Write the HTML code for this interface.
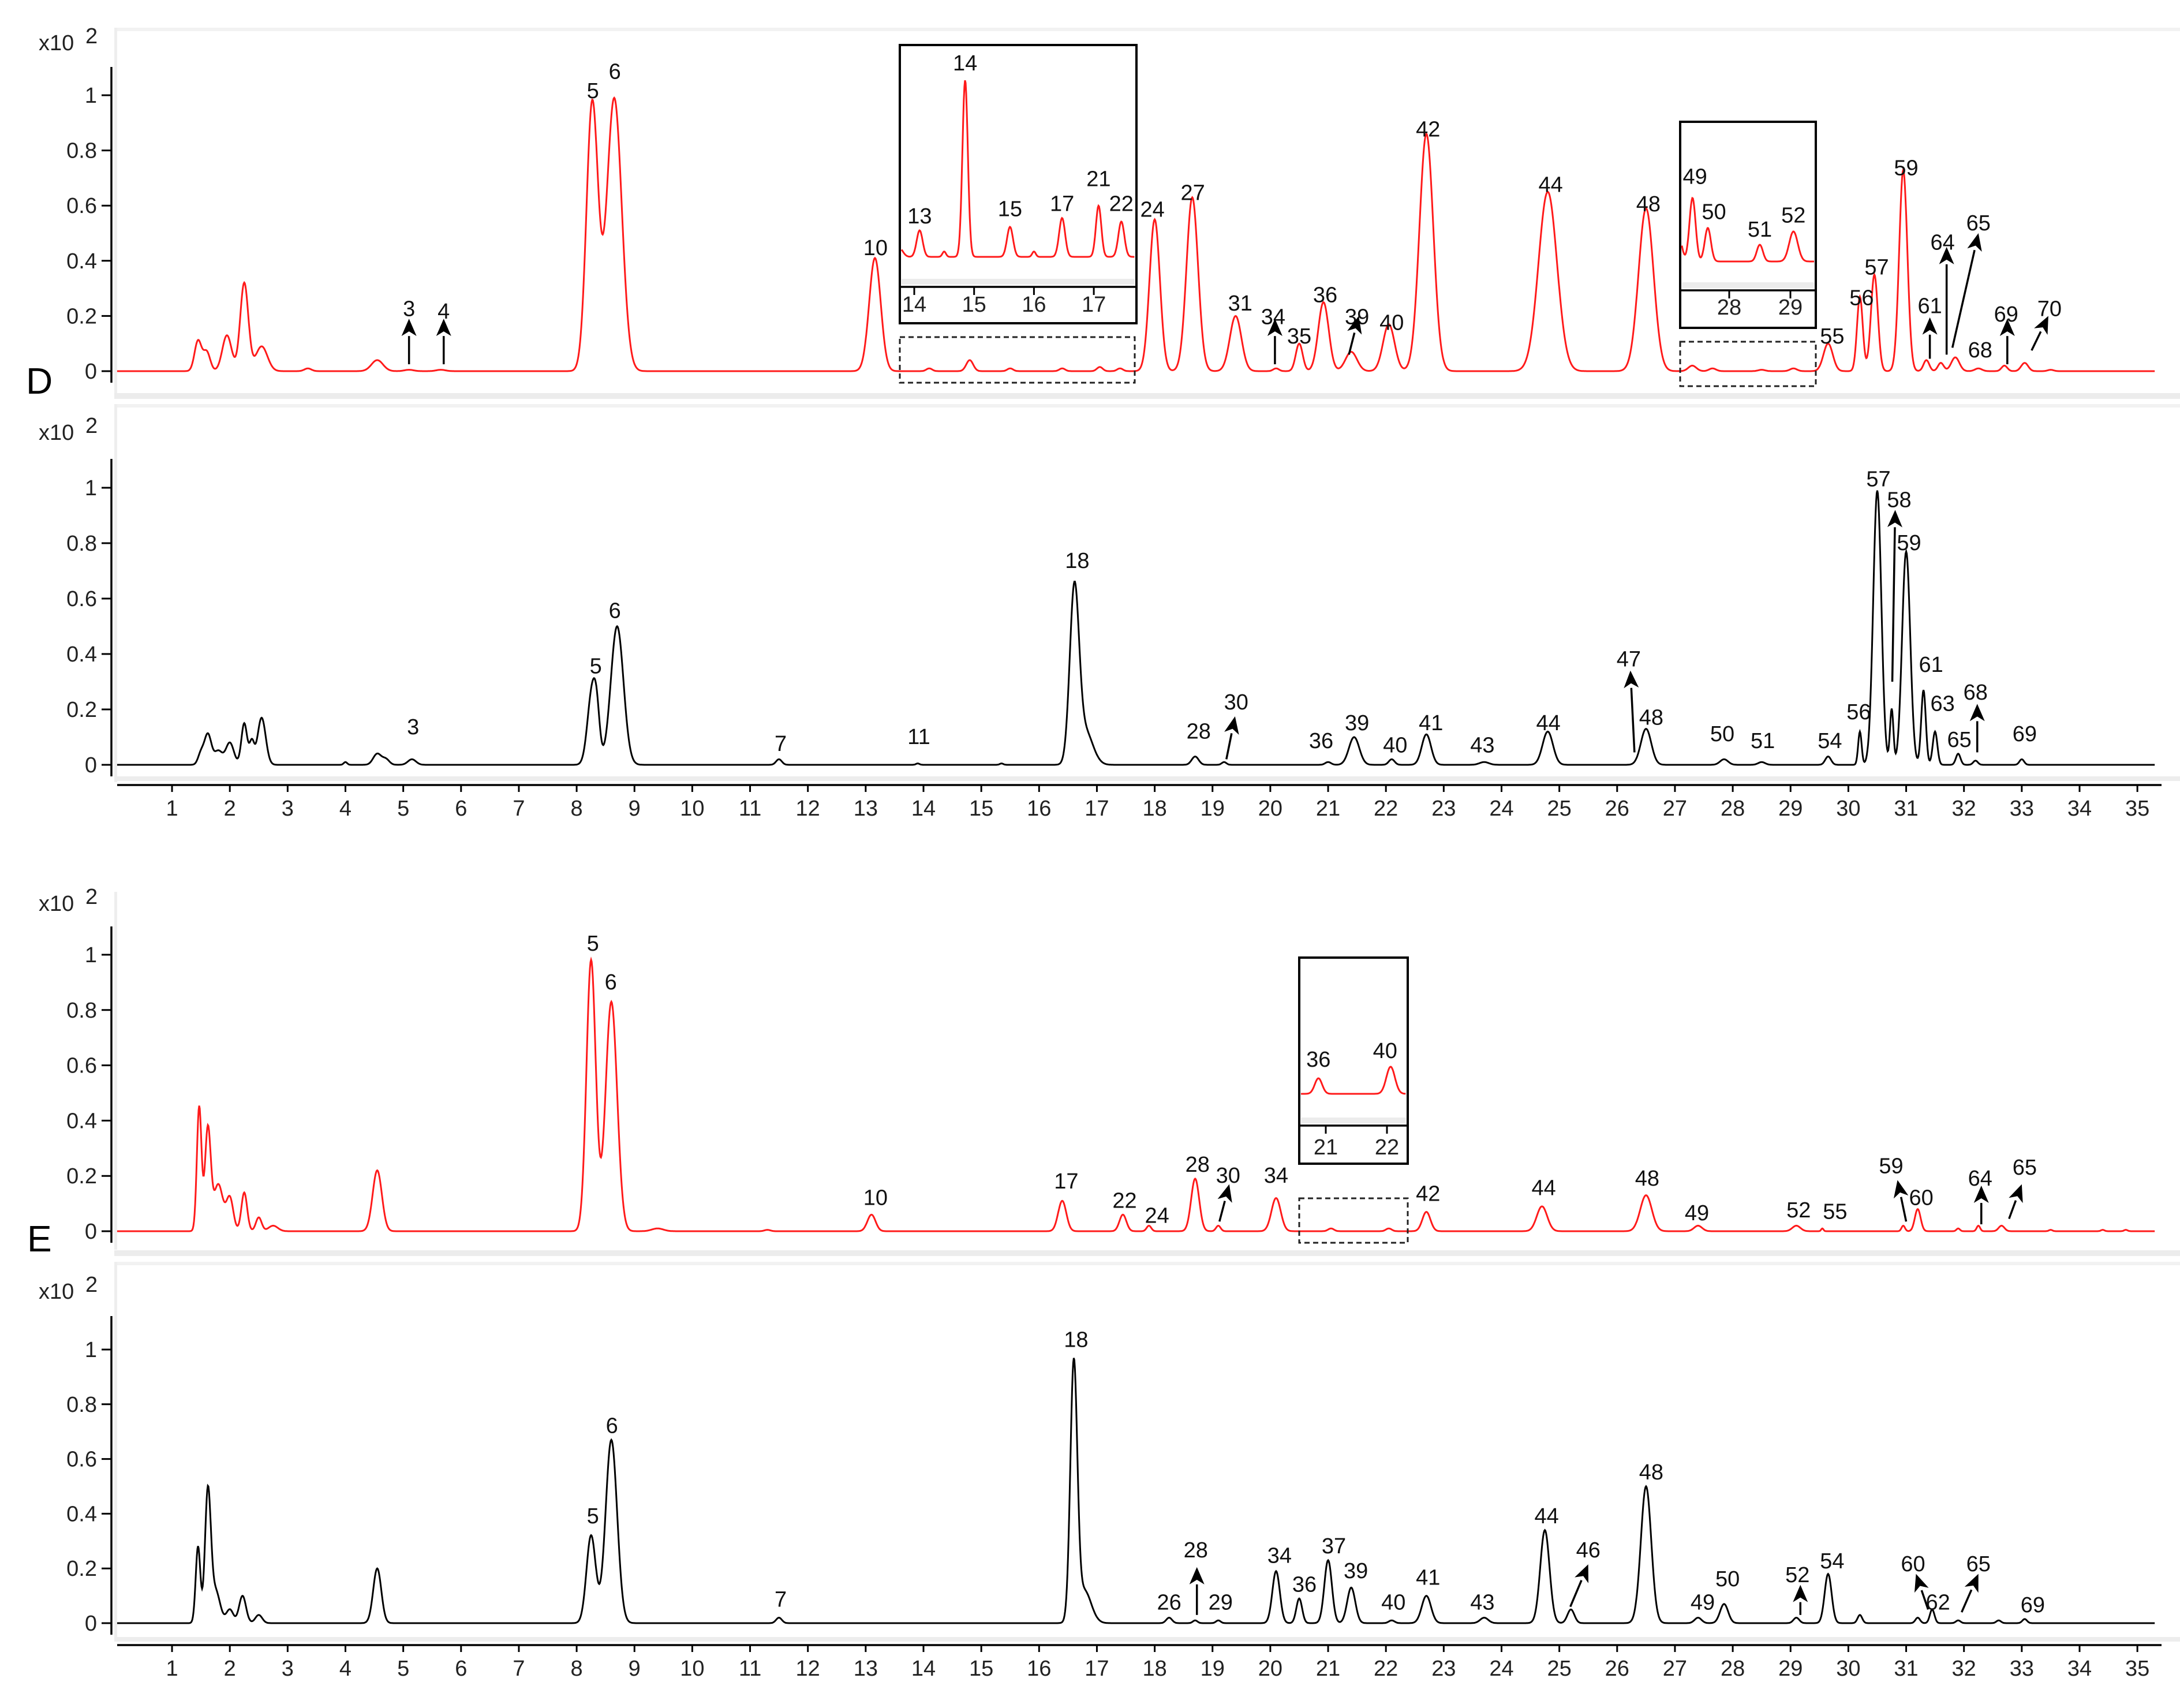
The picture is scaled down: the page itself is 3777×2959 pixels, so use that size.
<!DOCTYPE html>
<html><head><meta charset="utf-8"><title>Chromatograms D and E</title>
<style>
html,body{margin:0;padding:0;background:#fff;}
svg{display:block;}
text{font-family:"Liberation Sans",sans-serif;}
.tk{font-size:38px;fill:#222;}
.pl{font-size:38px;fill:#111;}
</style></head>
<body>
<svg id="chart" width="3777" height="2959" viewBox="0 0 3777 2959" xmlns="http://www.w3.org/2000/svg">
<g id="frames">
  <rect x="198" y="48" width="3579" height="6" fill="#f2f2f2"/>
  <rect x="198" y="48" width="5" height="640" fill="#eeeeee"/>
  <rect x="198" y="681" width="3579" height="10" fill="#ececec"/>
  <rect x="198" y="700" width="3579" height="6" fill="#f2f2f2"/>
  <rect x="198" y="700" width="5" height="655" fill="#eeeeee"/>
  <rect x="198" y="1345" width="3579" height="8" fill="#ededed"/>
  <rect x="198" y="1545" width="5" height="620" fill="#eeeeee"/>
  <rect x="198" y="2166" width="3579" height="10" fill="#ececec"/>
  <rect x="198" y="2186" width="3579" height="6" fill="#f2f2f2"/>
  <rect x="198" y="2186" width="5" height="650" fill="#eeeeee"/>
  <rect x="198" y="2836" width="3579" height="8" fill="#ededed"/>
</g>
<g id="layer"></g>
</svg>
<script>
// ---------- data: panel D, red trace ----------
const dRedTimes   = [1.45,1.6,1.95,2.25,2.55,3.35,4.55,5.1,5.65,8.27,8.65,13.16,14.1,14.8,15.5,16.4,17.05,17.4,18.0,18.65,19.4,20.1,20.5,20.92,21.4,22.05,22.7,24.8,26.5,27.3,27.65,28.5,29.05,29.65,30.2,30.45,30.95,31.35,31.6,31.85,32.25,32.7,33.05,33.5];
const dRedHeights = [0.11,0.07,0.13,0.32,0.09,0.01,0.04,0.005,0.005,0.97,0.99,0.41,0.01,0.04,0.01,0.01,0.015,0.01,0.55,0.63,0.2,0.01,0.1,0.25,0.07,0.17,0.86,0.65,0.59,0.02,0.01,0.005,0.01,0.1,0.27,0.35,0.73,0.04,0.03,0.05,0.01,0.02,0.03,0.005];
const dRedWidths  = [0.06,0.06,0.08,0.07,0.1,0.06,0.1,0.08,0.08,0.1,0.13,0.1,0.05,0.06,0.05,0.05,0.05,0.05,0.09,0.1,0.1,0.05,0.06,0.09,0.1,0.1,0.12,0.16,0.13,0.07,0.06,0.06,0.06,0.08,0.05,0.06,0.07,0.05,0.05,0.07,0.06,0.05,0.06,0.05];
const dRedLabels  = ["3","4","5","6","10","24","27","31","34","35","36","39","40","42","44","48","55","56","57","59","61","64","65","68","69","70"];
const dRedLabelT  = [5.1,5.7,8.28,8.66,13.17,17.96,18.66,19.48,20.05,20.5,20.95,21.5,22.1,22.73,24.85,26.54,29.72,30.23,30.49,31.0,31.41,31.63,32.25,32.28,32.73,33.48];
const dRedLabelV  = [0.20,0.19,0.99,1.06,0.42,0.56,0.62,0.22,0.17,0.10,0.25,0.17,0.15,0.85,0.65,0.58,0.10,0.24,0.35,0.71,0.21,0.44,0.51,0.05,0.18,0.20];
const dRedArrFromT = [5.1,5.7,20.08,21.36,31.41,31.7,31.8,32.75,33.17];
const dRedArrFromV = [0.025,0.025,0.025,0.06,0.045,0.06,0.085,0.025,0.075];
const dRedArrToT   = [5.1,5.7,20.08,21.53,31.41,31.7,32.25,32.75,33.46];
const dRedArrToV   = [0.19,0.19,0.19,0.2,0.195,0.45,0.5,0.19,0.2];

// ---------- data: panel D, black trace ----------
const dBlkTimes   = [1.5,1.62,1.8,2.0,2.25,2.38,2.55,4.0,4.55,4.7,5.15,8.27,8.35,8.7,11.5,13.9,15.35,16.61,16.8,18.7,19.2,21.0,21.45,22.1,22.7,23.7,24.8,26.5,27.85,28.5,29.65,30.2,30.5,30.75,31.0,31.3,31.5,31.9,32.2,33.0];
const dBlkHeights = [0.04,0.11,0.05,0.08,0.15,0.08,0.17,0.01,0.04,0.02,0.02,0.27,0.1,0.5,0.02,0.005,0.005,0.62,0.12,0.03,0.01,0.01,0.1,0.02,0.11,0.01,0.12,0.13,0.02,0.01,0.03,0.12,0.99,0.2,0.77,0.27,0.12,0.04,0.015,0.02];
const dBlkWidths  = [0.05,0.06,0.07,0.07,0.05,0.04,0.07,0.03,0.07,0.06,0.07,0.08,0.05,0.11,0.05,0.03,0.03,0.08,0.13,0.06,0.04,0.05,0.09,0.05,0.08,0.08,0.09,0.09,0.07,0.06,0.05,0.03,0.07,0.03,0.07,0.04,0.04,0.04,0.04,0.04];
const dBlkLabels  = ["3","5","6","7","11","18","28","30","36","39","40","41","43","44","47","48","50","51","54","56","57","58","59","61","63","65","68","69"];
const dBlkLabelT  = [5.17,8.33,8.66,11.53,13.92,16.66,18.76,19.41,20.88,21.5,22.16,22.78,23.67,24.81,26.2,26.59,27.82,28.52,29.68,30.18,30.52,30.88,31.05,31.43,31.63,31.92,32.2,33.05];
const dBlkLabelV  = [0.11,0.33,0.53,0.05,0.075,0.71,0.095,0.2,0.06,0.125,0.045,0.125,0.045,0.125,0.355,0.145,0.085,0.06,0.06,0.165,1.005,0.93,0.775,0.335,0.195,0.065,0.235,0.085];
const dBlkArrFromT = [19.24,26.3,30.76,32.23];
const dBlkArrFromV = [0.02,0.045,0.3,0.045];
const dBlkArrToT   = [19.39,26.23,30.81,32.23];
const dBlkArrToV   = [0.175,0.34,0.92,0.22];

// ---------- data: panel E, red trace ----------
const eRedTimes   = [1.47,1.62,1.8,2.0,2.25,2.5,2.75,4.55,8.25,8.6,9.4,11.3,13.1,16.4,17.45,17.9,18.7,19.1,20.1,21.05,22.05,22.7,24.7,26.5,27.4,29.1,29.55,30.95,31.2,31.9,32.25,32.65,33.5,34.4,34.8];
const eRedHeights = [0.45,0.37,0.17,0.12,0.14,0.05,0.02,0.22,0.98,0.83,0.01,0.005,0.06,0.11,0.06,0.02,0.19,0.02,0.12,0.01,0.01,0.07,0.09,0.13,0.02,0.02,0.01,0.02,0.08,0.01,0.02,0.02,0.005,0.005,0.005];
const eRedWidths  = [0.04,0.05,0.08,0.06,0.05,0.05,0.08,0.08,0.08,0.1,0.1,0.05,0.07,0.07,0.06,0.04,0.07,0.04,0.08,0.05,0.05,0.07,0.09,0.1,0.07,0.07,0.02,0.03,0.05,0.03,0.03,0.05,0.03,0.03,0.03];
const eRedLabels  = ["5","6","10","17","22","24","28","30","34","42","44","48","49","52","55","59","60","64","65"];
const eRedLabelT  = [8.28,8.59,13.17,16.47,17.48,18.04,18.74,19.27,20.1,22.73,24.73,26.52,27.38,29.14,29.77,30.74,31.26,32.28,33.05];
const eRedLabelV  = [1.015,0.875,0.095,0.155,0.085,0.03,0.215,0.175,0.175,0.11,0.13,0.165,0.04,0.05,0.045,0.21,0.095,0.165,0.205];
const eRedArrFromT = [19.12,31.0,32.3,32.78];
const eRedArrFromV = [0.035,0.035,0.025,0.045];
const eRedArrToT   = [19.29,30.85,32.3,33.0];
const eRedArrToV   = [0.17,0.185,0.165,0.17];

// ---------- data: panel E, black trace ----------
const eBlkTimes   = [1.45,1.62,1.75,2.0,2.22,2.5,4.55,8.25,8.6,11.5,16.6,16.78,18.25,18.7,19.1,20.1,20.5,21.0,21.4,22.1,22.7,23.7,24.75,25.2,26.5,27.4,27.85,29.1,29.65,30.2,31.2,31.45,31.9,32.6,33.05];
const eBlkHeights = [0.28,0.47,0.12,0.05,0.1,0.03,0.2,0.32,0.67,0.02,0.93,0.12,0.02,0.01,0.01,0.19,0.09,0.23,0.13,0.01,0.1,0.02,0.34,0.05,0.5,0.02,0.07,0.02,0.18,0.03,0.02,0.05,0.01,0.01,0.015];
const eBlkWidths  = [0.04,0.05,0.08,0.06,0.06,0.06,0.07,0.08,0.1,0.05,0.06,0.12,0.05,0.04,0.04,0.065,0.05,0.065,0.07,0.05,0.08,0.07,0.08,0.06,0.09,0.06,0.07,0.05,0.06,0.04,0.04,0.04,0.04,0.04,0.04];
const eBlkLabels  = ["5","6","7","18","26","28","29","34","36","37","39","40","41","43","44","46","48","49","50","52","54","60","62","65","69"];
const eBlkLabelT  = [8.28,8.61,11.53,16.64,18.25,18.71,19.14,20.16,20.59,21.1,21.48,22.13,22.73,23.67,24.78,25.5,26.59,27.48,27.91,29.12,29.72,31.12,31.55,32.25,33.19];
const eBlkLabelV  = [0.365,0.695,0.06,1.01,0.05,0.24,0.05,0.22,0.115,0.255,0.165,0.05,0.14,0.05,0.365,0.24,0.525,0.05,0.135,0.15,0.2,0.19,0.05,0.19,0.04];
const eBlkArrFromT = [18.73,25.19,29.17,31.38,31.96];
const eBlkArrFromV = [0.03,0.06,0.03,0.05,0.04];
const eBlkArrToT   = [18.73,25.5,29.17,31.17,32.25];
const eBlkArrToV   = [0.205,0.215,0.14,0.18,0.18];

// ---------- inset data ----------
const in1Times   = [13.75,14.09,14.5,14.85,15.6,16.0,16.47,17.08,17.46];
const in1Heights = [0.05,0.15,0.03,1.0,0.17,0.03,0.22,0.29,0.2];
const in1Widths  = [0.06,0.05,0.03,0.045,0.05,0.03,0.05,0.045,0.05];
const in1Labels  = ["13","14","15","17","21","22"];
const in1LabelT  = [14.09,14.85,15.6,16.47,17.08,17.46];
const in1LabelV  = [0.19,1.055,0.23,0.26,0.4,0.26];
const in1Ticks   = [14,15,16,17];

const in2Times   = [27.15,27.4,27.65,28.5,29.05];
const in2Heights = [0.2,0.36,0.19,0.095,0.17];
const in2Widths  = [0.06,0.05,0.05,0.05,0.07];
const in2Labels  = ["49","50","51","52"];
const in2LabelT  = [27.44,27.75,28.5,29.05];
const in2LabelV  = [0.44,0.24,0.14,0.22];
const in2Ticks   = [28,29];

const in3Times   = [20.88,22.06];
const in3Heights = [0.27,0.47];
const in3Widths  = [0.06,0.07];
const in3Labels  = ["36","40"];
const in3LabelT  = [20.88,21.97];
const in3LabelV  = [0.47,0.62];
const in3Ticks   = [21,22];

const yTickValues = [0,0.2,0.4,0.6,0.8,1];
const yTickLabels = ["0","0.2","0.4","0.6","0.8","1"];
const xTickValues = [1,2,3,4,5,6,7,8,9,10,11,12,13,14,15,16,17,18,19,20,21,22,23,24,25,26,27,28,29,30,31,32,33,34,35];

// ---------- rendering ----------
const NS = "http://www.w3.org/2000/svg";
const layer = document.getElementById('layer');
const X0 = 197.9, XS = 100.15;
function xScale(t){ return X0 + XS*t; }
function mk(tag, attrs, parent){
  const el = document.createElementNS(NS, tag);
  for (const k in attrs) el.setAttribute(k, attrs[k]);
  (parent||layer).appendChild(el);
  return el;
}
function sumPeaks(t, times, heights, widths){
  let v = 0;
  for (let i=0;i<times.length;i++){ const d=(t-times[i])/widths[i]; v += heights[i]*Math.exp(-0.5*d*d); }
  return v;
}
function tracePath(times, heights, widths, t0, t1, xf, yf){
  let d = "";
  for (let t=t0; t<=t1+1e-9; t+=0.01){
    const x = xf(t), y = yf(sumPeaks(t,times,heights,widths));
    d += (d ? "L" : "M") + x.toFixed(1) + "," + y.toFixed(1);
  }
  return d;
}
function arrow(x1,y1,x2,y2,name){
  const g = mk('g',{});
  
  
  const ang = Math.atan2(y2-y1,x2-x1), L=30, W=13;
  const bx = x2 - L*Math.cos(ang), by = y2 - L*Math.sin(ang);
  mk('line',{x1:x1,y1:y1,x2:bx,y2:by,stroke:'#000','stroke-width':3.5},g);
  const px = -Math.sin(ang), py = Math.cos(ang);
  const nx = bx + 8*Math.cos(ang), ny = by + 8*Math.sin(ang);
  mk('path',{d:`M${x2},${y2}L${bx+W*px},${by+W*py}L${nx},${ny}L${bx-W*px},${by-W*py}Z`,fill:'#000'},g);
}

const panels = [
  {id:'d-red', y0:643, y1:165, color:'#ff1a1a', times:dRedTimes, heights:dRedHeights, widths:dRedWidths, labels:dRedLabels, lt:dRedLabelT, lv:dRedLabelV, aft:dRedArrFromT, afv:dRedArrFromV, att:dRedArrToT, atv:dRedArrToV, xlab:87, axTop:116},
  {id:'d-black', y0:1325, y1:845, color:'#000', times:dBlkTimes, heights:dBlkHeights, widths:dBlkWidths, labels:dBlkLabels, lt:dBlkLabelT, lv:dBlkLabelV, aft:dBlkArrFromT, afv:dBlkArrFromV, att:dBlkArrToT, atv:dBlkArrToV, xlab:762, axTop:795},
  {id:'e-red', y0:2133, y1:1654, color:'#ff1a1a', times:eRedTimes, heights:eRedHeights, widths:eRedWidths, labels:eRedLabels, lt:eRedLabelT, lv:eRedLabelV, aft:eRedArrFromT, afv:eRedArrFromV, att:eRedArrToT, atv:eRedArrToV, xlab:1578, axTop:1605},
  {id:'e-black', y0:2812, y1:2338, color:'#000', times:eBlkTimes, heights:eBlkHeights, widths:eBlkWidths, labels:eBlkLabels, lt:eBlkLabelT, lv:eBlkLabelV, aft:eBlkArrFromT, afv:eBlkArrFromV, att:eBlkArrToT, atv:eBlkArrToV, xlab:2250, axTop:2280}
];

panels.forEach(p=>{
  const yf = v => p.y0 - (p.y1-p.y0)*-v;
  const g = mk('g',{});
  
  
  const ax = mk('line',{x1:193,y1:p.axTop,x2:193,y2:p.y0+20,stroke:'#000','stroke-width':3.5},g);
  
  
  yTickValues.forEach((v,i)=>{
    const y = yf(v);
    mk('line',{x1:176,y1:y,x2:193,y2:y,stroke:'#000','stroke-width':3},g);
    const t = mk('text',{x:168,y:y+13,'text-anchor':'end','class':'tk'},g);
    
    
    t.textContent = yTickLabels[i];
  });
  const mult = mk('text',{x:67,y:p.xlab,'class':'tk'},g);
  
  
  mult.textContent = 'x10';
  const sup = mk('text',{x:148,y:p.xlab-12,'class':'tk'},g);
  
  
  sup.textContent = '2';
  const tr = mk('path',{d:tracePath(p.times,p.heights,p.widths,0.05,35.3,xScale,yf),fill:'none',stroke:p.color,'stroke-width':3,'stroke-linejoin':'miter'},g);
  
  
  p.labels.forEach((s,i)=>{
    const t = mk('text',{x:xScale(p.lt[i]),y:yf(p.lv[i]),'text-anchor':'middle','class':'pl'},g);
    
    
    t.textContent = s;
  });
  p.aft.forEach((ft,i)=>{
    arrow(xScale(ft), yf(p.afv[i]), xScale(p.att[i]), yf(p.atv[i]), 'peak-arrow');
  });
});

[{y:1360,lab:1413,n:'d'},{y:2850,lab:2903,n:'e'}].forEach(a=>{
  const g = mk('g',{});
  
  
  mk('line',{x1:203,y1:a.y,x2:3745,y2:a.y,stroke:'#000','stroke-width':3.5},g);
  xTickValues.forEach(v=>{
    const x = xScale(v);
    mk('line',{x1:x,y1:a.y,x2:x,y2:a.y+12,stroke:'#000','stroke-width':3},g);
    const t = mk('text',{x:x,y:a.lab,'text-anchor':'middle','class':'tk'},g);
    
    
    t.textContent = String(v);
  });
});

const lD = mk('text',{x:45,y:682,style:'font-size:64px;fill:#000'});


lD.textContent = 'D';
const lE = mk('text',{x:47,y:2168,style:'font-size:64px;fill:#000'});


lE.textContent = 'E';

const insets = [
  {n:'inset-d-14-17', bx0:1559, by0:78, bx1:1969, by1:560, axisY:497, labY:540, base:445, scale:306, xa:1584, ta:14, xs:103.7,
   times:in1Times, heights:in1Heights, widths:in1Widths, labels:in1Labels, lt:in1LabelT, lv:in1LabelV, ticks:in1Ticks,
   dash:[1559,584,1966,663]},
  {n:'inset-d-27-29', bx0:2911, by0:211, bx1:3146, by1:568, axisY:503, labY:545, base:453, scale:306, xa:2996, ta:28, xs:106,
   times:in2Times, heights:in2Heights, widths:in2Widths, labels:in2Labels, lt:in2LabelT, lv:in2LabelV, ticks:in2Ticks,
   dash:[2911,592,3146,669]},
  {n:'inset-e-21-22', bx0:2251, by0:1659, bx1:2439, by1:2016, axisY:1950, labY:2000, base:1895, scale:100, xa:2297, ta:21, xs:106,
   times:in3Times, heights:in3Heights, widths:in3Widths, labels:in3Labels, lt:in3LabelT, lv:in3LabelV, ticks:in3Ticks,
   dash:[2251,2076,2439,2153]}
];
insets.forEach(s=>{
  const g = mk('g',{});
  
  
  mk('rect',{x:s.bx0,y:s.by0,width:s.bx1-s.bx0,height:s.by1-s.by0,fill:'#fff',stroke:'#000','stroke-width':4},g);
  mk('rect',{x:s.bx0+3,y:s.axisY-14,width:s.bx1-s.bx0-6,height:10,fill:'#ececec'},g);
  mk('line',{x1:s.bx0,y1:s.axisY,x2:s.bx1,y2:s.axisY,stroke:'#000','stroke-width':3.5},g);
  const xf = t => s.xa + s.xs*(t - s.ta);
  const t1 = s.ta + (s.bx1 - 3 - s.xa)/s.xs;
  const t0 = s.ta + (s.bx0 + 3 - s.xa)/s.xs;
  const yf = v => s.base - s.scale*v;
  const tr = mk('path',{d:tracePath(s.times,s.heights,s.widths,t0,t1,xf,yf),fill:'none',stroke:'#ff1a1a','stroke-width':3},g);
  
  
  s.ticks.forEach(v=>{
    const x = xf(v);
    mk('line',{x1:x,y1:s.axisY,x2:x,y2:s.axisY+14,stroke:'#000','stroke-width':3},g);
    const t = mk('text',{x:x,y:s.labY,'text-anchor':'middle','class':'tk'},g);
    
    
    t.textContent = String(v);
  });
  s.labels.forEach((lab,i)=>{
    const t = mk('text',{x:xf(s.lt[i]),y:yf(s.lv[i]),'text-anchor':'middle','class':'pl'},g);
    
    
    t.textContent = lab;
  });
  const d = s.dash;
  const dr = mk('rect',{x:d[0],y:d[1],width:d[2]-d[0],height:d[3]-d[1],fill:'none',stroke:'#222','stroke-width':3,'stroke-dasharray':'9,6'});
  
  
});
</script>
</body></html>
